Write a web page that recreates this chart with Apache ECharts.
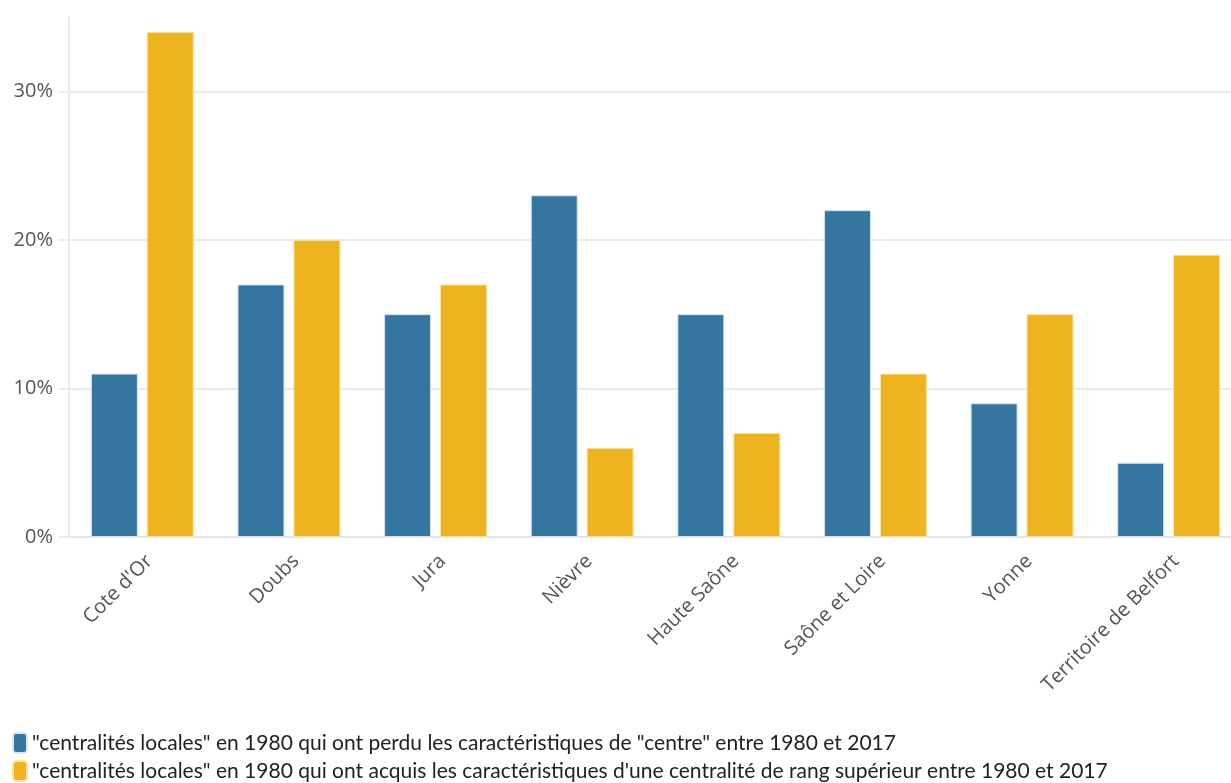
<!DOCTYPE html>
<html><head><meta charset="utf-8">
<script src="https://cdn.jsdelivr.net/npm/echarts@6/dist/echarts.min.js"></script>
<style>html,body{margin:0;padding:0;background:#fff}#c{width:1231px;height:783px}</style>
</head><body><div id="c"></div>
<script>
const categories = ["Cote d'Or","Doubs","Jura","Nièvre","Haute Saône","Saône et Loire","Yonne","Territoire de Belfort"];
const seriesNames = ['"centralités locales" en 1980 qui ont perdu les caractéristiques de "centre" entre 1980 et 2017',
  '"centralités locales" en 1980 qui ont acquis les caractéristiques d\'une centralité de rang supérieur entre 1980 et 2017'];
const perdu = [11,17,15,23,15,22,9,5];
const acquis = [34,20,17,6,7,11,15,19];
const colors = ['#34769f','#edb41f'];

const legendBase = {orient:'horizontal',left:12,padding:0,itemWidth:14,itemHeight:20,icon:'roundRect',
  textStyle:{fontFamily:'Lato',fontSize:21,color:'#222'}};
const chart = echarts.init(document.getElementById('c'));
chart.setOption({
  animation:false,
  grid:{left:69,width:1173,top:17,bottom:246,outerBoundsMode:'none',containLabel:false},
  legend:[
    Object.assign({},legendBase,{top:732,data:[seriesNames[0]]}),
    Object.assign({},legendBase,{top:760,data:[seriesNames[1]]})
  ],
  xAxis:{type:'category',data:categories,
    axisLine:{lineStyle:{color:'#e6e6e6',width:2}},
    axisTick:{alignWithLabel:true,length:8,lineStyle:{color:'#e6e6e6',width:2}},
    axisLabel:{rotate:45,fontFamily:'Open Sans',fontSize:20,color:'#555',margin:14,interval:0,verticalAlign:'top'}},
  yAxis:{type:'value',min:0,max:35,interval:10,
    axisLine:{show:true,lineStyle:{color:'#ebebeb',width:2}},
    axisTick:{show:true,length:10,lineStyle:{color:'#ebebeb',width:2}},
    splitLine:{showMaxLine:false,lineStyle:{color:'#ebebeb',width:2}},
    axisLabel:{showMaxLabel:false,formatter:'{value}%',fontFamily:'Open Sans',fontSize:20,color:'#555',margin:16}},
  series:[
    {name:seriesNames[0],type:'bar',data:perdu,barWidth:47,barGap:'19%',
     itemStyle:{color:colors[0],borderColor:'#d6e6f0',borderWidth:1}},
    {name:seriesNames[1],type:'bar',data:acquis,barWidth:47,
     itemStyle:{color:colors[1],borderColor:'#f8e3a8',borderWidth:1}}
  ]
});
</script></body></html>
